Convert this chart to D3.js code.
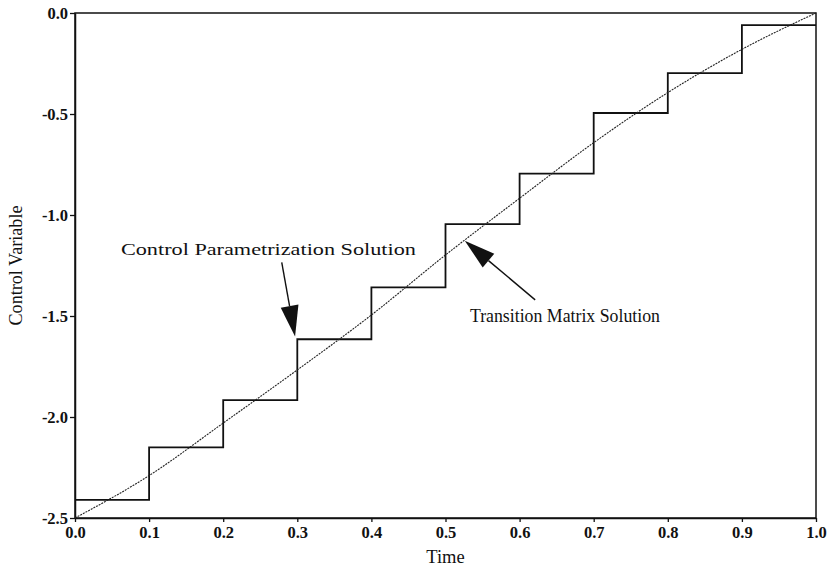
<!DOCTYPE html>
<head>
	<meta charset="utf-8" />
	<style>
		body {
			margin: 0;
			background-color: #fff;
		}
		svg text {
			font-family: 'Liberation Serif', 'Times New Roman', serif;
			fill: #111;
		}
	</style>
</head>

<body>
	<svg id="chart" width="831" height="569"></svg>

	<script src="https://cdn.jsdelivr.net/npm/d3@7"></script>
	<script>
		// piecewise constant control, one level per 0.1 interval
		const stepTimes = [0.0, 0.1, 0.2, 0.3, 0.4, 0.5, 0.6, 0.7, 0.8, 0.9];
		const stepValues = [-2.41, -2.15, -1.916, -1.615, -1.358, -1.045, -0.795, -0.495, -0.298, -0.06];

		// smooth transition matrix solution
		const curveTimes = [0.0, 0.1, 0.2, 0.3, 0.4, 0.5, 0.6, 0.7, 0.8, 0.9, 1.0];
		const curveValues = [-2.5, -2.29, -2.03, -1.767, -1.495, -1.198, -0.917, -0.642, -0.394, -0.18, 0.0];

		const xTicks = [0, 0.1, 0.2, 0.3, 0.4, 0.5, 0.6, 0.7, 0.8, 0.9, 1.0];
		const yTicks = [0, -0.5, -1.0, -1.5, -2.0, -2.5];

		const serif = "'Liberation Serif', 'Times New Roman', serif";
		const margins = { top: 13, right: 15, bottom: 51, left: 75 };
		const W = 831, H = 569;
		const width = W - margins.left - margins.right;
		const height = H - margins.top - margins.bottom;

		const svg = d3.select('#chart');
		const g = svg.append('g').attr('transform', `translate(${margins.left},${margins.top})`);

		const x = d3.scaleLinear().domain([0, 1]).range([0, width]);
		const y = d3.scaleLinear().domain([-2.5, 0]).range([height, 0]);

		// frame
		g.append('rect')
			.attr('width', width)
			.attr('height', height)
			.attr('fill', 'none')
			.attr('stroke', '#111')
			.attr('stroke-width', 1.5);

		const fmt = d => d.toFixed(1); // plain hyphen, like the original
		const xAxis = g.append('g')
			.attr('transform', `translate(0,${height})`)
			.call(d3.axisBottom(x).tickValues(xTicks).tickFormat(fmt).tickSize(4).tickPadding(4).tickSizeOuter(0));
		const yAxis = g.append('g')
			.call(d3.axisLeft(y).tickValues(yTicks).tickFormat(fmt).tickSize(5).tickPadding(2).tickSizeOuter(0));

		[xAxis, yAxis].forEach(a => {
			a.attr('font-family', serif).attr('font-size', 16);
			a.select('.domain').attr('stroke', '#111').attr('stroke-width', 1.5);
			a.selectAll('.tick line').attr('stroke', '#111').attr('stroke-width', 1.3);
			a.selectAll('.tick text')
				.style('font-family', serif)
				.style('font-size', '16.5px')
				.style('font-weight', 'bold')
				.attr('fill', '#111');
		});
		yAxis.selectAll('.tick text').attr('dy', '0.34em');

		// axis titles
		svg.append('text')
			.attr('x', margins.left + width / 2)
			.attr('y', 563)
			.attr('text-anchor', 'middle')
			.style('font-size', '18.5px')
			.text('Time');
		svg.append('text')
			.attr('transform', `translate(22,${margins.top + height / 2}) rotate(-90)`)
			.attr('text-anchor', 'middle')
			.attr('textLength', 120)
			.attr('lengthAdjust', 'spacingAndGlyphs')
			.style('font-size', '18.5px')
			.text('Control Variable');

		// step solution
		const stepPts = stepTimes.map((t, i) => [t, stepValues[i]]);
		stepPts.push([1.0, stepValues[stepValues.length - 1]]);
		const stepLine = d3.line().x(d => x(d[0])).y(d => y(d[1])).curve(d3.curveStepAfter);
		g.append('path')
			.attr('d', stepLine(stepPts))
			.attr('fill', 'none')
			.attr('stroke', '#111')
			.attr('stroke-width', 1.8);

		// smooth solution
		const smoothLine = d3.line().x((d, i) => x(curveTimes[i])).y(d => y(d)).curve(d3.curveMonotoneX);
		g.append('path')
			.attr('d', smoothLine(curveValues))
			.attr('fill', 'none')
			.attr('stroke', '#222')
			.attr('stroke-width', 1.1)
			.attr('stroke-dasharray', '2,1');

		// annotations: arrows in data coordinates
		function arrow(from, to) {
			const x0 = x(from[0]), y0 = y(from[1]);
			const x1 = x(to[0]), y1 = y(to[1]);
			const ang = Math.atan2(y1 - y0, x1 - x0);
			const len = 31, half = 9;
			const bx = x1 - len * Math.cos(ang), by = y1 - len * Math.sin(ang);
			const px = -Math.sin(ang) * half, py = Math.cos(ang) * half;
			g.append('line')
				.attr('x1', x0).attr('y1', y0)
				.attr('x2', bx).attr('y2', by)
				.attr('stroke', '#111')
				.attr('stroke-width', 1.4);
			g.append('path')
				.attr('d', `M${x1},${y1}L${bx + px},${by + py}L${bx - px},${by - py}Z`)
				.attr('fill', '#111');
		}

		arrow([0.279, -1.235], [0.297, -1.602]);
		arrow([0.621, -1.42], [0.526, -1.127]);

		g.append('text')
			.attr('x', x(0.062))
			.attr('y', y(-1.2))
			.attr('textLength', 295)
			.attr('lengthAdjust', 'spacingAndGlyphs')
			.style('font-size', '16px')
			.text('Control Parametrization Solution');
		g.append('text')
			.attr('x', x(0.533))
			.attr('y', y(-1.53))
			.attr('textLength', 190)
			.attr('lengthAdjust', 'spacingAndGlyphs')
			.style('font-size', '18.5px')
			.text('Transition Matrix Solution');
	</script>
</body>
